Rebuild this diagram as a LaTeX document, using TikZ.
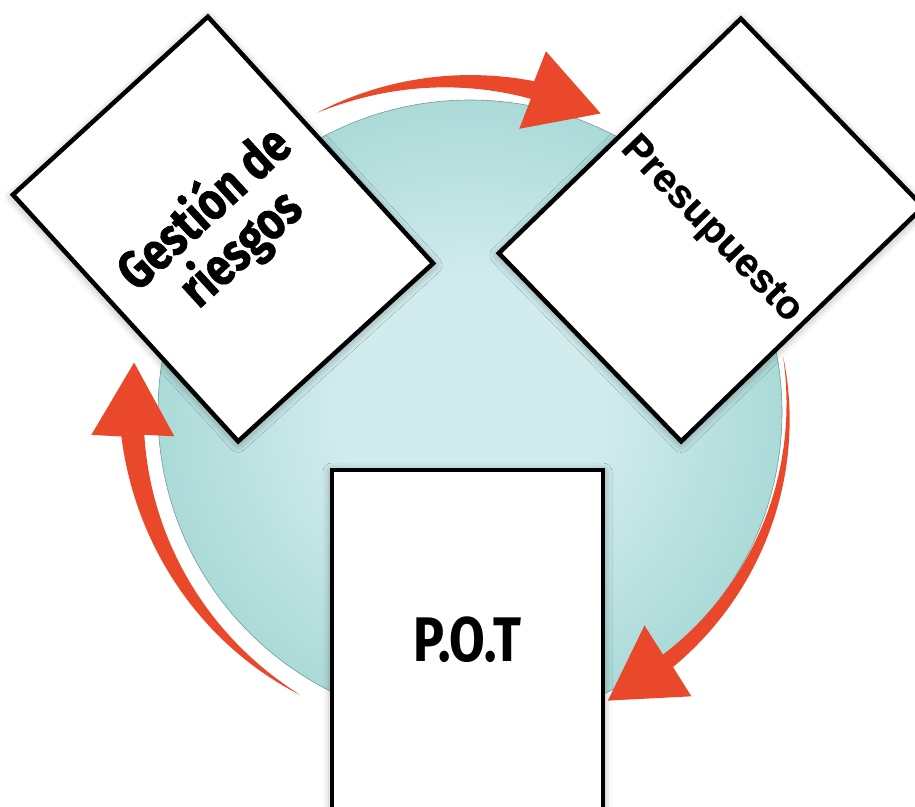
\documentclass[tikz,border=0pt]{standalone}
\usepackage{fontspec}
\setmainfont{Fira Sans}
\newfontfamily\condfont{Fira Sans}[FakeStretch=0.82,FakeBold=1.2]
\newfontfamily\potfont{Fira Sans}[FakeStretch=0.82]
\newfontfamily\arialfont{Liberation Sans}[FakeBold=0.6]
\usetikzlibrary{calc,shadows.blur}
\definecolor{tealD}{HTML}{94D0CC}
\definecolor{tealM}{HTML}{A8D9D6}
\definecolor{tealL}{HTML}{D2ECEE}
\definecolor{arrowcol}{HTML}{E9482B}
\pgfdeclareradialshading{discshade}{\pgfpoint{0bp}{0bp}}{color(0bp)=(tealL); color(10bp)=(tealL); color(26bp)=(tealM); color(40bp)=(tealD); color(50bp)=(tealD)}
\tikzset{
  card/.style={draw=black, line width=4.5pt, fill=white, align=center, inner sep=0pt,
    blur shadow={shadow xshift=0pt, shadow yshift=-2pt, shadow blur radius=9pt, shadow opacity=40}},
}
% #1 tail angle, #2 base angle, #3 R tail, #4 R base, #5 shaft width, #6 head width, #7 head length, #8 head tilt
\newcommand\cyclearrow[8]{%
  \fill[arrowcol]
    plot[domain=0:1, samples=50, variable=\t]
      ({470+(#3+(#4-#3)*\t+#5*(\t^0.9)/2)*cos(#1+(#2-#1)*\t)},
       {412+(#3+(#4-#3)*\t+#5*(\t^0.9)/2)*sin(#1+(#2-#1)*\t)})
    -- ($(ctr)+(#2:#4)+(#2+#8:#6/2)$)
    -- ($(ctr)+(#2:#4)+(#2+90+#8:#7)$)
    -- ($(ctr)+(#2:#4)-(#2+#8:#6/2)$)
    -- plot[domain=0:1, samples=50, variable=\t]
      ({470+(#3+(#4-#3)*(1-\t)-#5*((1-\t)^0.9)/2)*cos(#1+(#2-#1)*(1-\t))},
       {412+(#3+(#4-#3)*(1-\t)-#5*((1-\t)^0.9)/2)*sin(#1+(#2-#1)*(1-\t))})
    -- cycle;}
\begin{document}
\begin{tikzpicture}[x=1pt,y=-1pt]
\useasboundingbox (0,0) rectangle (915,806);
\coordinate (ctr) at (470,412);
% disc
\shade[shading=discshade, draw=tealD!75!black, line width=0.6pt] (ctr) circle (312);
% arrows
\cyclearrow{-117}{-79}{336}{328}{18}{82}{72}{8}
\cyclearrow{-10}{51.5}{318}{318}{16}{85}{72}{5}
\cyclearrow{121}{176}{330}{338}{23}{83}{73}{5}
% cards
\node[card, minimum width=264, minimum height=334, rotate=42.4,
      font=\condfont\bfseries\fontsize{53}{54}\selectfont] (gest) at (223,229)
  {Gestión de\\riesgos};
\node[card, minimum width=262, minimum height=337, rotate=-45.9,
      font=\arialfont\bfseries\fontsize{40}{44}\selectfont] (pres) at (711,230)
  {Presupuesto};
\node[card, minimum width=271, minimum height=340,
      font=\potfont\bfseries\fontsize{63}{63}\selectfont] (pot) at (467.5,640)
  {P.O.T};
\end{tikzpicture}
\end{document}
